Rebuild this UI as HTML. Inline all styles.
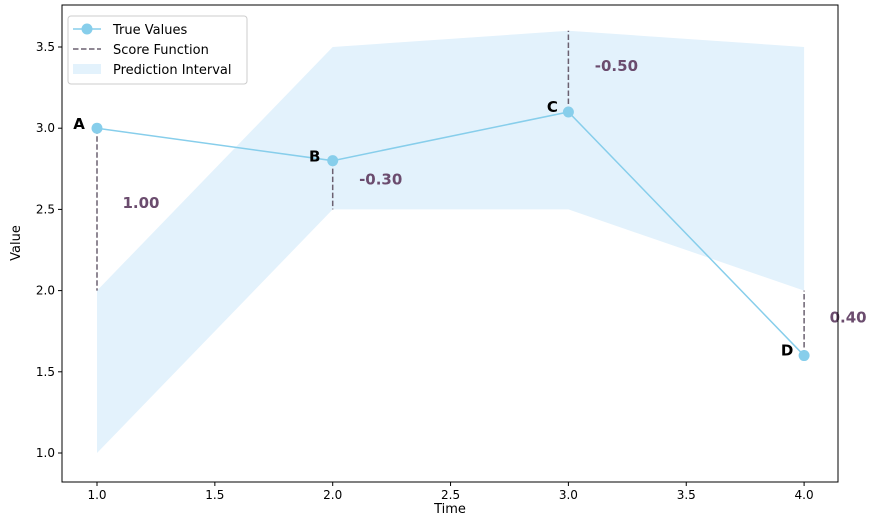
<!DOCTYPE html>
<html><head><meta charset="utf-8"><style>
body{margin:0;background:#fff;font-family:"Liberation Sans","DejaVu Sans",sans-serif;}
</style></head><body>
<svg id="chart" width="878" height="526" xmlns="http://www.w3.org/2000/svg" font-family="DejaVu Sans, Liberation Sans, sans-serif"></svg>
<script>
const times=[1,2,3,4];
const trueValues=[3.0,2.8,3.1,1.6];
const lowerBound=[1.0,2.5,2.5,2.0];
const upperBound=[2.0,3.5,3.6,3.5];
const dashTarget=[2.0,2.5,3.6,2.0];
const scoreLabels=["1.00","-0.30","-0.50","0.40"];
const pointLabels=["A","B","C","D"];
const xTicks=[1.0,1.5,2.0,2.5,3.0,3.5,4.0];
const yTicks=[1.0,1.5,2.0,2.5,3.0,3.5];
const L=62,R=838,T=5,B=482;
const X=v=>97+(v-1)*235.7;
const Y=v=>453-(v-1)*162.4;
const svg=document.getElementById('chart');
const NS='http://www.w3.org/2000/svg';
function mk(tag,attrs,parent){const e=document.createElementNS(NS,tag);for(const k in attrs)e.setAttribute(k,attrs[k]);(parent||svg).appendChild(e);return e;}
// band
let pts=times.map((t,i)=>X(t)+','+Y(upperBound[i]));
for(let i=times.length-1;i>=0;i--)pts.push(X(times[i])+','+Y(lowerBound[i]));
const band=mk('polygon',{points:pts.join(' '),fill:'#e3f2fc'});


// dashes
times.forEach((t,i)=>{
 const d=mk('line',{x1:X(t),x2:X(t),y1:Y(trueValues[i]),y2:Y(dashTarget[i]),stroke:'#6b6070','stroke-width':1.5,'stroke-dasharray':'5.5,2.5'});
 
 
});
// line
const ln=mk('polyline',{points:times.map((t,i)=>X(t)+','+Y(trueValues[i])).join(' '),fill:'none',stroke:'#87ceeb','stroke-width':1.5});


const lblOff=[[-18,-4],[-18,-4],[-16,-5],[-17,-5]];
const scOff=[[44,75],[48,19],[48,-46],[44,-38]];
times.forEach((t,i)=>{
 const c=mk('circle',{cx:X(t),cy:Y(trueValues[i]),r:5.5,fill:'#87ceeb'});
 
 
 const a=mk('text',{x:X(t)+lblOff[i][0],y:Y(trueValues[i])+lblOff[i][1]+5,'font-size':15,'font-weight':'bold','text-anchor':'middle',fill:'#000'});
 a.textContent=pointLabels[i];
 
 
 const s=mk('text',{x:X(t)+scOff[i][0],y:Y(trueValues[i])+scOff[i][1]+5,'font-size':15,'font-weight':'bold','text-anchor':'middle',fill:'#6b4c6e'});
 s.textContent=scoreLabels[i];
 
 
});
// frame
const fr=mk('rect',{x:L,y:T,width:R-L,height:B-T,fill:'none',stroke:'#000','stroke-width':1});


xTicks.forEach(v=>{
 mk('line',{x1:X(v),x2:X(v),y1:B,y2:B+4,stroke:'#000'});
 const t=mk('text',{x:X(v),y:B+17,'font-size':12,'text-anchor':'middle'});t.textContent=v.toFixed(1);
 
 
});
yTicks.forEach(v=>{
 mk('line',{x1:L-4,x2:L,y1:Y(v),y2:Y(v),stroke:'#000'});
 const t=mk('text',{x:L-7,y:Y(v)+4,'font-size':12,'text-anchor':'end'});t.textContent=v.toFixed(1);
 
 
});
const xt=mk('text',{x:450,y:513,'font-size':13,'text-anchor':'middle'});xt.textContent='Time';

const yt=mk('text',{x:20,y:243,'font-size':13,'text-anchor':'middle',transform:'rotate(-90 20 243)'});yt.textContent='Value';

// legend
const lg=mk('g',{});

mk('rect',{x:68,y:16,width:179,height:68,rx:3,fill:'#fff','fill-opacity':0.85,stroke:'#ccc'},lg);
mk('line',{x1:73,x2:101,y1:29,y2:29,stroke:'#87ceeb','stroke-width':1.5},lg);
mk('circle',{cx:87,cy:29,r:5.5,fill:'#87ceeb'},lg);
mk('line',{x1:73,x2:101,y1:49,y2:49,stroke:'#6b6070','stroke-width':1.5,'stroke-dasharray':'5.5,2.5'},lg);
mk('rect',{x:73,y:64,width:28,height:10,fill:'#e3f2fc'},lg);
[['True Values',34],['Score Function',54],['Prediction Interval',74]].forEach(([s,y])=>{
 const t=mk('text',{x:113,y:y,'font-size':13},lg);t.textContent=s;
 
});
</script>
</body></html>
